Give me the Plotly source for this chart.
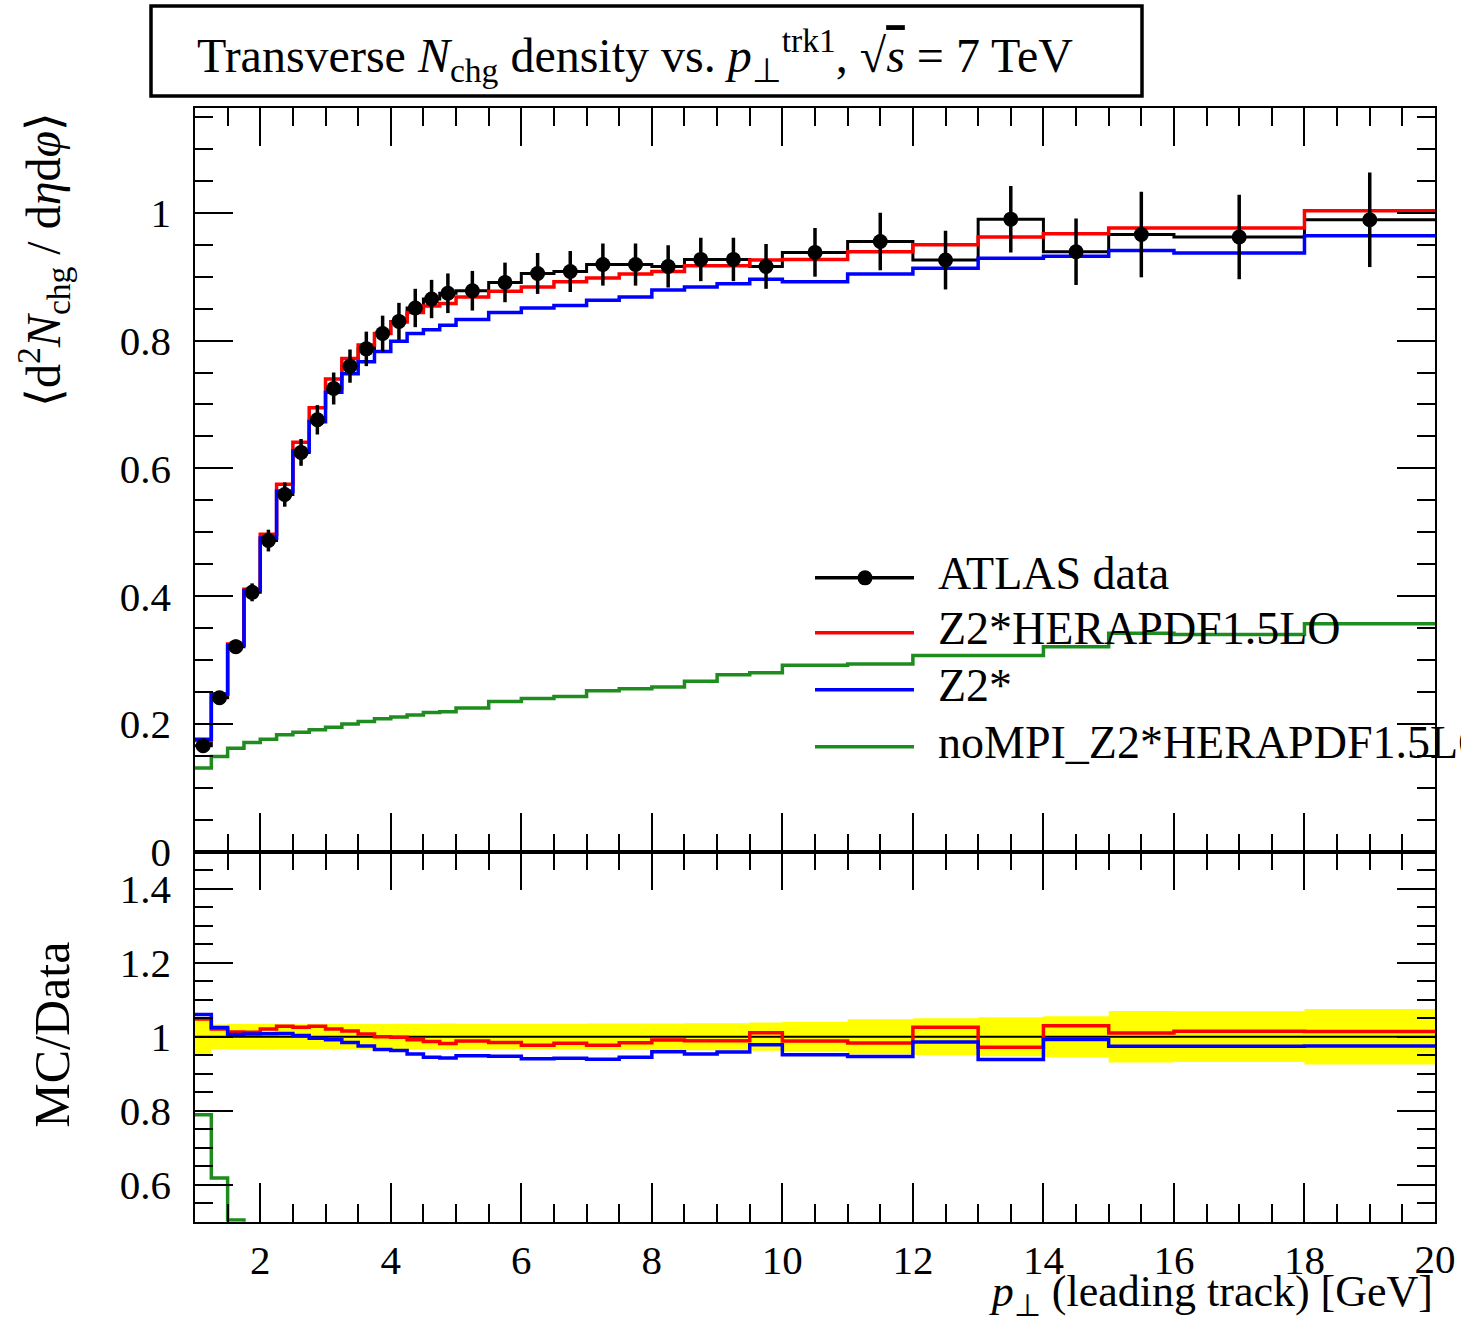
import plotly.graph_objects as go

W, H = 1461, 1339

# ---------------- data ----------------
bin_edges = [1.0, 1.25, 1.5, 1.75, 2.0, 2.25, 2.5, 2.75, 3.0, 3.25, 3.5, 3.75, 4.0,
             4.25, 4.5, 4.75, 5.0, 5.5, 6.0, 6.5, 7.0, 7.5, 8.0, 8.5, 9.0, 9.5, 10.0,
             11.0, 12.0, 13.0, 14.0, 15.0, 16.0, 18.0, 20.0]

atlas_data = [0.166, 0.241, 0.321, 0.406, 0.487, 0.559, 0.625, 0.676, 0.725, 0.760,
              0.787, 0.811, 0.830, 0.851, 0.865, 0.874, 0.878, 0.891, 0.905, 0.908,
              0.919, 0.919, 0.916, 0.927, 0.927, 0.916, 0.938, 0.955, 0.926, 0.990,
              0.939, 0.966, 0.962, 0.989]
atlas_err = [0.008, 0.008, 0.011, 0.014, 0.017, 0.019, 0.021, 0.023, 0.025, 0.026,
             0.027, 0.028, 0.029, 0.030, 0.030, 0.031, 0.031, 0.031, 0.032, 0.032,
             0.033, 0.033, 0.033, 0.034, 0.034, 0.035, 0.038, 0.045, 0.046, 0.052,
             0.052, 0.067, 0.066, 0.074]
z2_herapdf = [0.174, 0.246, 0.325, 0.411, 0.497, 0.575, 0.641, 0.695, 0.740, 0.772,
              0.793, 0.811, 0.829, 0.844, 0.854, 0.858, 0.868, 0.877, 0.884, 0.892,
              0.898, 0.904, 0.908, 0.917, 0.917, 0.926, 0.927, 0.939, 0.950, 0.962,
              0.967, 0.976, 0.976, 1.003]
z2 = [0.176, 0.247, 0.323, 0.409, 0.491, 0.564, 0.627, 0.673, 0.719, 0.748,
      0.767, 0.783, 0.799, 0.811, 0.817, 0.824, 0.833, 0.844, 0.851, 0.855,
      0.863, 0.868, 0.879, 0.884, 0.889, 0.896, 0.892, 0.904, 0.913, 0.929,
      0.932, 0.941, 0.937, 0.964]
nompi_z2_herapdf = [0.131, 0.149, 0.162, 0.171, 0.176, 0.183, 0.187, 0.191, 0.195, 0.200,
                    0.204, 0.208, 0.211, 0.214, 0.218, 0.219, 0.225, 0.235, 0.240, 0.243,
                    0.252, 0.255, 0.258, 0.267, 0.277, 0.280, 0.292, 0.294, 0.307, 0.307,
                    0.321, 0.342, 0.340, 0.357]

legend_labels = ["ATLAS data", "Z2*HERAPDF1.5LO", "Z2*", "noMPI_Z2*HERAPDF1.5LO"]
colors = ["black", "#ff0000", "#0000ff", "#1f8c1f"]

top_yticks = [0, 0.2, 0.4, 0.6, 0.8, 1.0]
top_yticktext = ["0", "0.2", "0.4", "0.6", "0.8", "1"]
bot_yticks = [0.6, 0.8, 1.0, 1.2, 1.4]
bot_yticktext = ["0.6", "0.8", "1", "1.2", "1.4"]
xticks = [2, 4, 6, 8, 10, 12, 14, 16, 18, 20]
xticktext = ["2", "4", "6", "8", "10", "12", "14", "16", "18", "20"]
x_title = "<i>p</i><sub>⊥</sub> (leading track) [GeV]"

# ---------------- helpers ----------------
centers = [(bin_edges[i] + bin_edges[i + 1]) / 2 for i in range(len(bin_edges) - 1)]


def step(vals):
    return list(bin_edges), list(vals) + [vals[-1]]


FONT = "Liberation Serif"
SY = 1.0172   # vertical layout factor (compensates the page's extra height in the photo)

fig = go.Figure()

# --- top panel ---
sx, sy = step(nompi_z2_herapdf)
fig.add_trace(go.Scatter(x=sx, y=sy, mode="lines", line_shape="hv",
                         line=dict(color=colors[3], width=3.5), xaxis="x", yaxis="y"))
sx, sy = step(atlas_data)
fig.add_trace(go.Scatter(x=sx, y=sy, mode="lines", line_shape="hv",
                         line=dict(color="black", width=3), xaxis="x", yaxis="y"))
sx, sy = step(z2_herapdf)
fig.add_trace(go.Scatter(x=sx, y=sy, mode="lines", line_shape="hv",
                         line=dict(color=colors[1], width=3.5), xaxis="x", yaxis="y"))
sx, sy = step(z2)
fig.add_trace(go.Scatter(x=sx, y=sy, mode="lines", line_shape="hv",
                         line=dict(color=colors[2], width=3.5), xaxis="x", yaxis="y"))
fig.add_trace(go.Scatter(x=centers, y=atlas_data, mode="markers",
                         marker=dict(color="black", size=15),
                         error_y=dict(type="data", array=atlas_err, width=0,
                                      thickness=3.5, color="black"),
                         xaxis="x", yaxis="y"))

# --- ratio panel ---
rel = [e / d for e, d in zip(atlas_err, atlas_data)]
lo = [1 - r for r in rel]
hi = [1 + r for r in rel]
sx, sy = step(lo)
fig.add_trace(go.Scatter(x=sx, y=sy, mode="lines", line_shape="hv",
                         line=dict(width=0, color="#ffff00"), xaxis="x2", yaxis="y2"))
sx, sy = step(hi)
fig.add_trace(go.Scatter(x=sx, y=sy, mode="lines", line_shape="hv", fill="tonexty",
                         fillcolor="#ffff00",
                         line=dict(width=0, color="#ffff00"), xaxis="x2", yaxis="y2"))
fig.add_trace(go.Scatter(x=[bin_edges[0], bin_edges[-1]], y=[1, 1], mode="lines",
                         line=dict(color="black", width=2), xaxis="x2", yaxis="y2"))
for series, col in [(nompi_z2_herapdf, colors[3]), (z2_herapdf, colors[1]), (z2, colors[2])]:
    ratio = [m / d for m, d in zip(series, atlas_data)]
    sx, sy = step(ratio)
    fig.add_trace(go.Scatter(x=sx, y=sy, mode="lines", line_shape="hv",
                             line=dict(color=col, width=3.5), xaxis="x2", yaxis="y2"))

# ---------------- page geometry (pixels) ----------------
X0, X1 = 195, 1435          # plot area left / right
Y_TOP, Y_MID, Y_BOT = 108, 852, 1222
XMIN, XMAX = bin_edges[0], bin_edges[-1]


def px(x):
    return x / W


def yv(y):
    return y * SY


def py(y):
    return 1 - yv(y) / H


def x_to_pix(v):
    return X0 + (v - XMIN) / (XMAX - XMIN) * (X1 - X0)


# --- overlay layer (pixel units, clipped at the page edge): legend, edge tick label, x title ---
leg_y = [578, 633, 690, 747]
for col, yy in zip(colors, leg_y):
    fig.add_trace(go.Scatter(x=[815, 914], y=[yv(yy), yv(yy)], mode="lines",
                             line=dict(color=col, width=3.5), xaxis="x3", yaxis="y3"))
fig.add_trace(go.Scatter(x=[865], y=[yv(leg_y[0])], mode="markers",
                         marker=dict(color="black", size=15), xaxis="x3", yaxis="y3"))
fig.add_trace(go.Scatter(x=[938] * len(legend_labels), y=[yv(v) for v in leg_y],
                         mode="text", text=legend_labels, textposition="middle right",
                         textfont=dict(family=FONT, size=46, color="black"),
                         cliponaxis=True, xaxis="x3", yaxis="y3"))
# last x tick label sits on the page edge -> drawn here so it is clipped like the reference
fig.add_trace(go.Scatter(x=[x_to_pix(xticks[-1])], y=[yv(1263)], mode="text",
                         text=[xticktext[-1]], textposition="middle center",
                         textfont=dict(family=FONT, size=41, color="black"),
                         cliponaxis=True, xaxis="x3", yaxis="y3"))
# x-axis title, kept clear of the tick labels
fig.add_trace(go.Scatter(x=[1433], y=[1318], mode="text",
                         text=[x_title], textposition="middle left",
                         textfont=dict(family=FONT, size=44, color="black"),
                         cliponaxis=True, xaxis="x3", yaxis="y3"))

# ---------------- layout ----------------
xdom = [px(X0), px(X1)]
top_dom = [py(Y_MID), py(Y_TOP)]
bot_dom = [py(Y_BOT), py(Y_MID)]

tick_font = dict(family=FONT, size=41, color="black")
common_x = dict(range=[XMIN, XMAX], showline=True, linecolor="black", linewidth=1.6,
                mirror="ticks", ticks="inside", ticklen=38 * SY, tickwidth=1.6,
                tickcolor="black", tickvals=xticks, ticktext=xticktext,
                minor=dict(ticks="inside", ticklen=18 * SY, tickwidth=1.6, tickcolor="black",
                           tick0=0, dtick=0.5, showgrid=False),
                showgrid=False, zeroline=False, domain=xdom)
common_y = dict(showline=True, linecolor="black", linewidth=1.6, mirror="ticks",
                ticks="inside", ticklen=38, tickwidth=1.6, tickcolor="black",
                showgrid=False, zeroline=False, tickfont=tick_font,
                ticklabelstandoff=14,
                minor=dict(ticks="inside", ticklen=18, tickwidth=1.6, tickcolor="black",
                           tick0=0, dtick=0.05, showgrid=False))

fig.update_layout(
    width=W, height=H, margin=dict(l=0, r=0, t=0, b=0),
    paper_bgcolor="white", plot_bgcolor="rgba(0,0,0,0)", showlegend=False,
    xaxis=dict(**common_x, anchor="y", showticklabels=False),
    xaxis2=dict(**common_x, anchor="y2", matches="x", showticklabels=True,
                tickfont=tick_font, ticklabelstandoff=1,
                ticklabeloverflow="hide past domain"),
    yaxis=dict(**common_y, domain=top_dom, range=[0, 1.164], anchor="x",
               tickvals=top_yticks, ticktext=top_yticktext),
    yaxis2=dict(**common_y, domain=bot_dom, range=[0.5, 1.5], anchor="x2",
                tickvals=bot_yticks, ticktext=bot_yticktext),
    xaxis3=dict(domain=[0, 1], range=[0, W], visible=False, anchor="y3", fixedrange=True),
    yaxis3=dict(domain=[0, 1], range=[H, 0], visible=False, anchor="x3", fixedrange=True),
)

shapes = []
annotations = []

# title box
shapes.append(dict(type="rect", xref="paper", yref="paper",
                   x0=px(151), x1=px(1142), y0=py(96), y1=py(6),
                   line=dict(color="black", width=3.5), fillcolor="rgba(0,0,0,0)"))
annotations.append(dict(
    xref="paper", yref="paper", x=px(195), y=py(56), xanchor="left", yanchor="middle",
    showarrow=False, font=dict(family=FONT, size=48, color="black"),
    text="Transverse <i>N</i><sub>chg</sub> density vs. <i>p</i><sub>⊥</sub><sup>trk1</sup>, √<span style='text-decoration:overline'><i>s</i></span> = 7 TeV"))

# y axis titles
annotations.append(dict(
    xref="paper", yref="paper", x=px(44), y=py(260), xanchor="center", yanchor="middle",
    textangle=-90, showarrow=False, font=dict(family=FONT, size=48, color="black"),
    text="⟨d<sup>2</sup><i>N</i><sub>chg</sub> / d<i>η</i>d<i>φ</i>⟩"))
annotations.append(dict(
    xref="paper", yref="paper", x=px(52), y=py(1035), xanchor="center", yanchor="middle",
    textangle=-90, showarrow=False, font=dict(family=FONT, size=50, color="black"),
    text="MC/Data"))

fig.update_layout(shapes=shapes, annotations=annotations)
fig.write_html("out.html")
